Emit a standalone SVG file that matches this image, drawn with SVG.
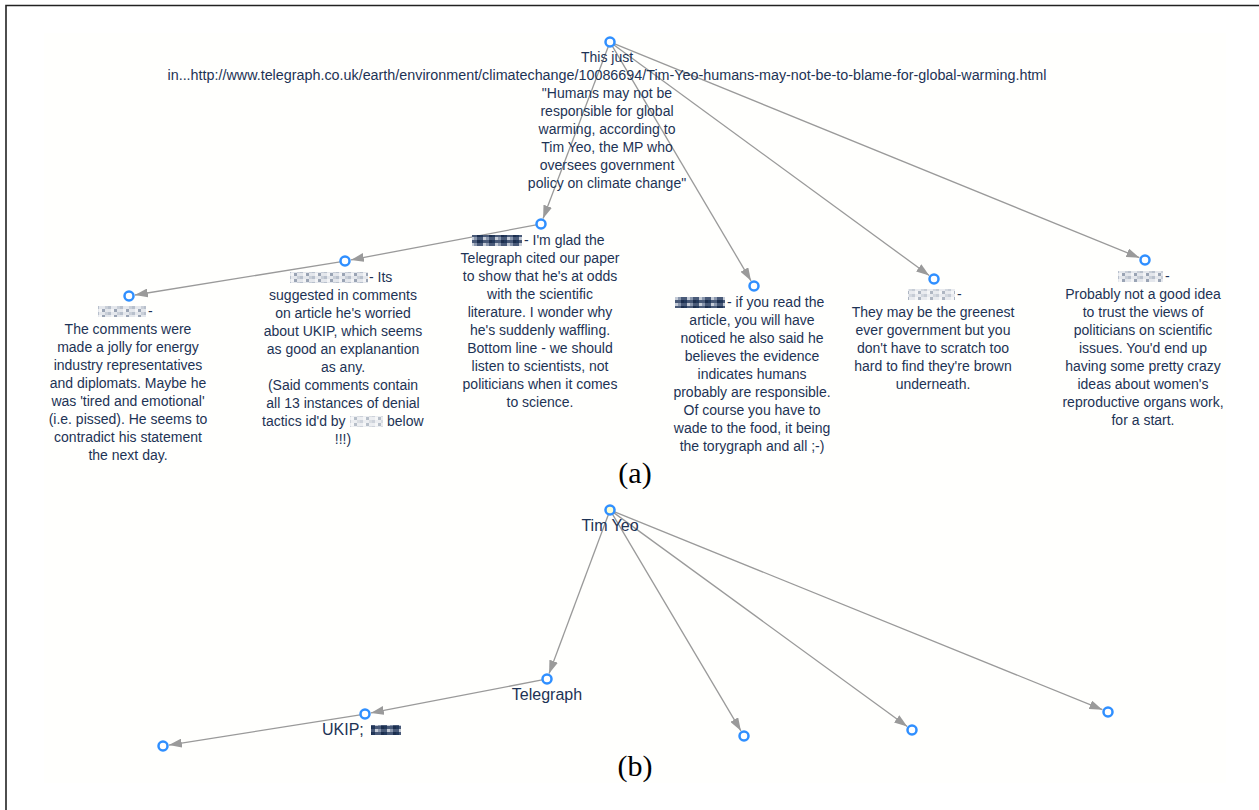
<svg xmlns="http://www.w3.org/2000/svg" width="1259" height="810" viewBox="0 0 1259 810">
<style>
.t{font-family:"Liberation Sans",Arial,sans-serif;font-size:14px;fill:#1d3355;text-anchor:middle}
.ts{font-family:"Liberation Sans",Arial,sans-serif;font-size:14px;fill:#1d3355;text-anchor:start}
.lb{font-family:"Liberation Sans",Arial,sans-serif;font-size:16px;fill:#1d3355;text-anchor:middle}
.cap{font-family:"Liberation Serif","Times New Roman",serif;font-size:30px;fill:#000;text-anchor:middle}
.n{fill:#fff;stroke:#2f8fff;stroke-width:2.5}
.e{stroke:#9a9a9a;stroke-width:1.3;fill:none;marker-end:url(#arr)}
.rd{filter:url(#soft)}
</style>
<defs>
<marker id="arr" markerUnits="userSpaceOnUse" markerWidth="13" markerHeight="9" refX="13" refY="4.5" orient="auto">
<path d="M0,0 L13,4.5 L0,9 z" fill="#9a9a9a"/>
</marker>
<filter id="soft" x="-10%" y="-20%" width="120%" height="140%"><feGaussianBlur stdDeviation="0.6"/></filter>
<pattern id="pxL" width="12" height="6" patternUnits="userSpaceOnUse">
<rect width="12" height="6" fill="#e4e7ec"/>
<rect x="0" y="0" width="3" height="3" fill="#b8c0cc"/>
<rect x="6" y="3" width="3" height="3" fill="#9aa4b4"/>
<rect x="9" y="0" width="3" height="3" fill="#c9cfd8"/>
<rect x="3" y="3" width="3" height="3" fill="#f3f4f6"/>
</pattern>
<pattern id="pxD" width="12" height="6" patternUnits="userSpaceOnUse">
<rect width="12" height="6" fill="#4a5a78"/>
<rect x="0" y="0" width="3" height="3" fill="#22375a"/>
<rect x="6" y="3" width="3" height="3" fill="#8a97ad"/>
<rect x="9" y="0" width="3" height="3" fill="#1c2e4e"/>
<rect x="3" y="3" width="3" height="3" fill="#c4cbd6"/>
</pattern>
</defs>
<rect width="1259" height="810" fill="#fff"/>
<rect x="44" y="33" width="1182" height="750" fill="#fffffd"/>
<path d="M6,810 V5.5 H1259" stroke="#222" stroke-width="1.6" fill="none"/>

<g id="connectors">
<line class="e" x1="608.2" y1="46.7" x2="543.1" y2="218.4"/>
<line class="e" x1="612.5" y1="46.3" x2="751.0" y2="280.8"/>
<line class="e" x1="614.0" y1="45.0" x2="929.2" y2="275.5"/>
<line class="e" x1="614.6" y1="43.9" x2="1139.4" y2="257.7"/>
<line class="e" x1="536.1" y1="224.9" x2="350.9" y2="259.9"/>
<line class="e" x1="340.1" y1="261.8" x2="134.9" y2="295.0"/>
<line class="e" x1="608.3" y1="514.7" x2="549.1" y2="673.4"/>
<line class="e" x1="612.6" y1="514.3" x2="740.9" y2="730.8"/>
<line class="e" x1="614.0" y1="512.9" x2="907.2" y2="726.5"/>
<line class="e" x1="614.6" y1="511.9" x2="1102.4" y2="709.7"/>
<line class="e" x1="542.1" y1="679.9" x2="370.9" y2="712.9"/>
<line class="e" x1="360.1" y1="714.8" x2="168.9" y2="745.1"/>
</g>

<g id="a-root">
<circle class="n" cx="610" cy="42" r="4.5"/>
<text class="t" x="607" y="62">This just</text>
<text class="t" x="607" y="80" textLength="879" lengthAdjust="spacingAndGlyphs">in...http://www.telegraph.co.uk/earth/environment/climatechange/10086694/Tim-Yeo-humans-may-not-be-to-blame-for-global-warming.html</text>
<text class="t" x="607" y="98">"Humans may not be</text>
<text class="t" x="607" y="116">responsible for global</text>
<text class="t" x="607" y="134">warming, according to</text>
<text class="t" x="607" y="152">Tim Yeo, the MP who</text>
<text class="t" x="607" y="170">oversees government</text>
<text class="t" x="607" y="188">policy on climate change"</text>
</g>

<g id="a-telegraph">
<circle class="n" cx="541" cy="224" r="4.5"/>
<rect class="rd" x="472" y="235" width="50" height="11" fill="url(#pxD)"/>
<text class="ts" x="524" y="245"> - I'm glad the</text>
<text class="t" x="540" y="263">Telegraph cited our paper</text>
<text class="t" x="540" y="281">to show that he's at odds</text>
<text class="t" x="540" y="299">with the scientific</text>
<text class="t" x="540" y="317">literature. I wonder why</text>
<text class="t" x="540" y="335">he's suddenly waffling.</text>
<text class="t" x="540" y="353">Bottom line - we should</text>
<text class="t" x="540" y="371">listen to scientists, not</text>
<text class="t" x="540" y="389">politicians when it comes</text>
<text class="t" x="540" y="407">to science.</text>
</g>

<g id="a-ukip">
<circle class="n" cx="345" cy="261" r="4.5"/>
<rect class="rd" x="290" y="272" width="78" height="11" fill="url(#pxL)"/>
<text class="ts" x="369" y="282"> - Its</text>
<text class="t" x="343" y="300">suggested in comments</text>
<text class="t" x="343" y="318">on article he's worried</text>
<text class="t" x="343" y="336">about UKIP, which seems</text>
<text class="t" x="343" y="354">as good an explanantion</text>
<text class="t" x="343" y="372">as any.</text>
<text class="t" x="343" y="390">(Said comments contain</text>
<text class="t" x="343" y="408">all 13 instances of denial</text>
<text class="ts" x="262" y="426">tactics id'd by</text>
<rect class="rd" x="350" y="416" width="33" height="11" fill="url(#pxL)" opacity="0.7"/>
<text class="ts" x="387" y="426">below</text>
<text class="t" x="343" y="444">!!!)</text>
</g>

<g id="a-jolly">
<circle class="n" cx="129" cy="296" r="4.5"/>
<rect class="rd" x="98" y="306" width="48" height="11" fill="url(#pxL)"/>
<text class="ts" x="148" y="316"> -</text>
<text class="t" x="128" y="334">The comments were</text>
<text class="t" x="128" y="352">made a jolly for energy</text>
<text class="t" x="128" y="370">industry representatives</text>
<text class="t" x="128" y="388">and diplomats. Maybe he</text>
<text class="t" x="128" y="406">was 'tired and emotional'</text>
<text class="t" x="128" y="424">(i.e. pissed). He seems to</text>
<text class="t" x="128" y="442">contradict his statement</text>
<text class="t" x="128" y="460">the next day.</text>
</g>

<g id="a-read">
<circle class="n" cx="754" cy="286" r="4.5"/>
<rect class="rd" x="675" y="297" width="50" height="11" fill="url(#pxD)"/>
<text class="ts" x="727" y="307"> - if you read the</text>
<text class="t" x="752" y="325">article, you will have</text>
<text class="t" x="752" y="343">noticed he also said he</text>
<text class="t" x="752" y="361">believes the evidence</text>
<text class="t" x="752" y="379">indicates humans</text>
<text class="t" x="752" y="397">probably are responsible.</text>
<text class="t" x="752" y="415">Of course you have to</text>
<text class="t" x="752" y="433">wade to the food, it being</text>
<text class="t" x="752" y="451">the torygraph and all ;-)</text>
</g>

<g id="a-greenest">
<circle class="n" cx="934" cy="279" r="4.5"/>
<rect class="rd" x="908" y="289" width="47" height="11" fill="url(#pxL)" opacity="0.8"/>
<text class="ts" x="957" y="299"> -</text>
<text class="t" x="933" y="317">They may be the greenest</text>
<text class="t" x="933" y="335">ever government but you</text>
<text class="t" x="933" y="353">don't have to scratch too</text>
<text class="t" x="933" y="371">hard to find they're brown</text>
<text class="t" x="933" y="389">underneath.</text>
</g>

<g id="a-probably">
<circle class="n" cx="1145" cy="260" r="4.5"/>
<rect class="rd" x="1118" y="271" width="45" height="11" fill="url(#pxL)"/>
<text class="ts" x="1165" y="281"> -</text>
<text class="t" x="1143" y="299">Probably not a good idea</text>
<text class="t" x="1143" y="317">to trust the views of</text>
<text class="t" x="1143" y="335">politicians on scientific</text>
<text class="t" x="1143" y="353">issues. You'd end up</text>
<text class="t" x="1143" y="371">having some pretty crazy</text>
<text class="t" x="1143" y="389">ideas about women's</text>
<text class="t" x="1143" y="407">reproductive organs work,</text>
<text class="t" x="1143" y="425">for a start.</text>
</g>

<text class="cap" x="635" y="483">(a)</text>

<g id="b-timyeo">
<circle cx="610" cy="510" r="4.5" fill="#ffffd0" stroke="#2f8fff" stroke-width="2.5"/>
<text class="lb" x="610" y="531">Tim Yeo</text>
</g>
<g id="b-telegraph">
<circle class="n" cx="547" cy="679" r="4.5"/>
<text class="lb" x="547" y="700">Telegraph</text>
</g>
<g id="b-ukip">
<circle class="n" cx="365" cy="714" r="4.5"/>
<text class="ts" x="322" y="735" style="font-size:16px">UKIP;</text>
<rect class="rd" x="371" y="725" width="30" height="10" fill="url(#pxD)"/>
</g>
<g id="b-n1"><circle class="n" cx="163" cy="746" r="4.5"/></g>
<g id="b-n4"><circle class="n" cx="744" cy="736" r="4.5"/></g>
<g id="b-n5"><circle class="n" cx="912" cy="730" r="4.5"/></g>
<g id="b-n6"><circle class="n" cx="1108" cy="712" r="4.5"/></g>

<text class="cap" x="635" y="776">(b)</text>
</svg>
